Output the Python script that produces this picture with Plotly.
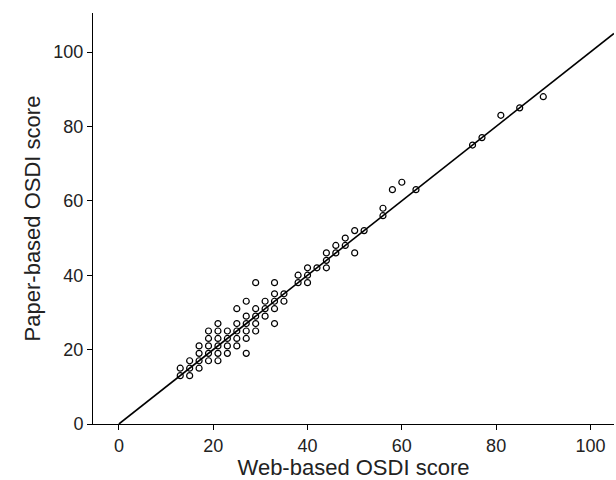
import plotly.graph_objects as go

web = [13,13,15,15,15,17,17,17,17,19,19,19,19,19,21,21,21,21,21,21,23,23,23,23,
       25,25,25,25,25,27,27,27,27,27,27,29,29,29,29,29,31,31,31,33,33,33,33,33,35,35,
       38,38,40,40,40,42,44,44,44,46,46,48,48,50,50,52,56,56,58,60,63,75,77,81,85,90]
paper = [15,13,17,15,13,21,19,17,15,25,23,21,19,17,27,25,23,21,19,17,25,23,21,19,
         31,27,25,23,21,33,29,27,25,23,19,38,31,29,27,25,33,31,29,38,35,33,31,27,35,33,
         40,38,42,40,38,42,46,44,42,48,46,50,48,52,46,52,58,56,63,65,63,75,77,83,85,88]
line_x = [0, 105]
line_y = [0, 105]

fig = go.Figure()
fig.add_trace(go.Scatter(x=line_x, y=line_y, mode="lines",
                         line=dict(color="black", width=1.6), hoverinfo="skip"))
fig.add_trace(go.Scatter(x=web, y=paper, mode="markers",
                         marker=dict(symbol="circle-open", size=6, color="black",
                                     line=dict(width=1.2, color="black"))))

fig.update_layout(
    width=616, height=480, showlegend=False,
    plot_bgcolor="white", paper_bgcolor="white",
    margin=dict(l=93, r=2, t=13, b=56),
    font=dict(family="Liberation Sans, Arial, sans-serif", size=18, color="#222"),
    xaxis=dict(range=[-5.5, 105], tickvals=[0, 20, 40, 60, 80, 100],
               showgrid=False, zeroline=False, showline=True, linecolor="black",
               linewidth=1, ticks="outside", ticklen=5, tickcolor="black",
               title=dict(text="Web-based OSDI score", standoff=6)),
    yaxis=dict(range=[0, 110.5], tickvals=[0, 20, 40, 60, 80, 100],
               showgrid=False, zeroline=False, showline=True, linecolor="black",
               linewidth=1, ticks="outside", ticklen=5, tickcolor="black",
               title=dict(text="Paper-based OSDI score", standoff=6)),
)

fig.write_html("out.html", config={"displayModeBar": False},
               post_script="document.body.style.margin='0';")
